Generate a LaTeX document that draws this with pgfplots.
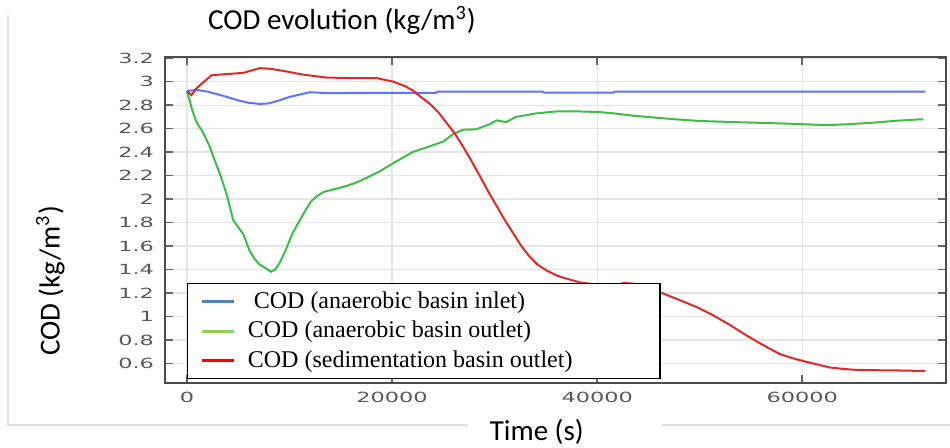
\documentclass[border=0pt]{standalone}
\usepackage{pgfplots}
\pgfplotsset{compat=1.18}
\usepackage{fontspec}
\setmainfont{Carlito}
\newfontfamily\tickfont[FakeStretch=1.6]{DejaVu Sans}
\newfontfamily\legfont{Liberation Serif}
\definecolor{plotblue}{RGB}{95,115,255}
\definecolor{plotgreen}{RGB}{60,190,70}
\definecolor{plotred}{RGB}{225,40,40}
\definecolor{legblue}{RGB}{79,129,189}
\definecolor{leggreen}{RGB}{146,208,80}
\definecolor{legred}{RGB}{255,0,0}

\pgfplotstableread{
x y
0 2.92
900 2.93
2000 2.915
3500 2.88
5000 2.84
6000 2.82
7100 2.81
8000 2.815
9000 2.84
10000 2.87
11000 2.89
12000 2.91
13500 2.903
15000 2.903
20000 2.905
24300 2.905
24400 2.915
34700 2.915
34800 2.907
41600 2.907
41700 2.915
72000 2.915
}\blueinlet

\pgfplotstableread{
x y
0 2.92
260 2.84
500 2.76
900 2.66
1600 2.56
2200 2.45
2700 2.33
3100 2.24
3500 2.14
3900 2.03
4500 1.82
5000 1.76
5500 1.70
6100 1.56
6600 1.49
7100 1.44
7700 1.41
8200 1.38
8600 1.40
9000 1.45
9600 1.56
10300 1.71
11000 1.82
11600 1.91
12100 1.98
12600 2.02
13300 2.06
14200 2.08
15500 2.11
16500 2.14
17500 2.18
18800 2.236
20400 2.32
22000 2.40
23700 2.45
25000 2.49
25900 2.55
26900 2.59
28200 2.594
29500 2.637
30200 2.67
31100 2.655
32100 2.70
34100 2.73
36000 2.746
38300 2.746
40000 2.742
41600 2.73
43500 2.71
45500 2.695
47500 2.68
50000 2.665
53500 2.655
58300 2.643
62400 2.63
64400 2.637
66800 2.65
69200 2.667
71800 2.68
}\greenoutlet

\pgfplotstableread{
x y
0 2.92
430 2.885
1000 2.95
2400 3.055
4000 3.065
5500 3.075
6500 3.10
7100 3.115
8100 3.11
9500 3.09
11300 3.06
13600 3.035
16000 3.03
18500 3.03
20100 3.00
21300 2.96
22100 2.92
22800 2.87
23700 2.81
24500 2.74
25300 2.65
26100 2.56
26900 2.45
27700 2.33
28600 2.19
29400 2.06
30200 1.94
31000 1.82
31800 1.71
32600 1.60
33400 1.51
34200 1.44
35100 1.39
36000 1.35
36700 1.33
38300 1.29
39600 1.275
41000 1.265
42000 1.27
42600 1.285
43500 1.28
44500 1.25
46100 1.207
48100 1.137
49700 1.08
51300 1.01
52900 0.93
54600 0.836
56200 0.755
57800 0.68
59000 0.645
60100 0.62
61500 0.59
62700 0.565
64000 0.553
65000 0.546
67000 0.542
69200 0.54
72000 0.535
}\redsed

\begin{document}
\begin{tikzpicture}
\useasboundingbox (-82.5pt,-32.5pt) rectangle (392.5pt,191.5pt);
\draw[black!12, line width=0.8pt] (-78.5pt,184pt) -- (-78.5pt,-21pt) -- (151.5pt,-21pt);
\draw[black!12, line width=0.8pt] (248.5pt,-21pt) -- (392.5pt,-21pt);
\begin{axis}[
  at={(0,0)}, anchor=south west,
  scale only axis, width=390.5pt, height=163pt,
  xmin=-2146, xmax=74020, ymin=0.433, ymax=3.21,
  xtick={0,20000,40000,60000},
  ytick={0.6,0.8,1,1.2,1.4,1.6,1.8,2,2.2,2.4,2.6,2.8,3,3.2},
  scaled x ticks=false,
  /pgf/number format/.cd, fixed, 1000 sep={}, assume math mode=true,
  /pgfplots/.cd,
  tick label style={font=\tickfont\fontsize{7}{8}\selectfont, text=black!65},
  yticklabel style={xshift=-2pt},
  xticklabel style={yshift=-1pt},
  tick align=inside,
  major tick length=4pt,
  tick style={black!60, line width=0.8pt},
  grid=major,
  grid style={black!10, line width=0.6pt},
  axis line style={black!70, line width=1pt},
  title={COD evolution (kg/m\textsuperscript{3})},
  every axis title/.style={at={(axis description cs:0.2266,1.113)}, anchor=center, font=\fontsize{14.5}{16}\selectfont},
  xlabel={Time (s)},
  xlabel style={at={(axis description cs:0.476,-0.150)}, anchor=center, font=\fontsize{14.5}{16}\selectfont},
  ylabel={COD (kg/m\textsuperscript{3})},
  ylabel style={at={(axis description cs:-0.147,0.313)}, anchor=center, font=\fontsize{14.5}{16}\selectfont},
  legend style={at={(0.028,0.011)}, anchor=south west, draw=black, line width=0.8pt, fill=white,
    inner xsep=6.5pt, inner ysep=3pt, row sep=3pt, column sep=5pt,
    nodes={inner sep=1pt, font=\legfont\fontsize{12}{13}\selectfont}},
  legend cell align=left,
  legend image code/.code={\draw[#1] (0pt,0pt) -- (16pt,0pt);},
]
\addplot[plotblue, line width=1pt, forget plot] table[x=x,y=y] {\blueinlet};
\addplot[plotgreen, line width=1pt, forget plot] table[x=x,y=y] {\greenoutlet};
\addplot[plotred, line width=1pt, forget plot] table[x=x,y=y] {\redsed};
\addlegendimage{legblue, line width=1.6pt}
\addlegendentry{\makebox[198.5pt][l]{\ COD (anaerobic basin inlet)}}
\addlegendimage{leggreen, line width=1.6pt}
\addlegendentry{\makebox[198.5pt][l]{COD (anaerobic basin outlet)}}
\addlegendimage{legred, line width=1.6pt}
\addlegendentry{\makebox[198.5pt][l]{COD (sedimentation  basin outlet)}}
\end{axis}
\end{tikzpicture}
\end{document}
